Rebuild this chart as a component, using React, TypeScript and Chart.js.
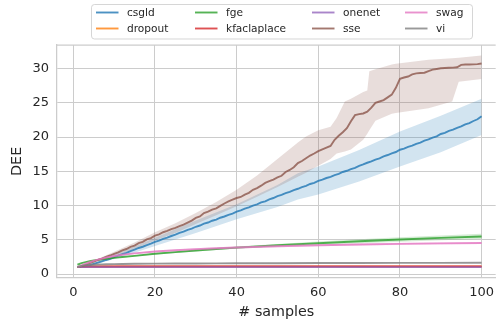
import React, { useEffect, useRef } from "react";
import { Chart, registerables } from "chart.js";

Chart.register(...registerables);

const SAMPLES = Array.from({ length: 100 }, (_, i) => i + 1);

const csgldMean = [
  1.0, 1.02, 1.1, 1.28, 1.48, 1.66, 1.85, 2.05, 2.22, 2.48,
  2.68, 2.9, 3.1, 3.35, 3.55, 3.8, 3.98, 4.22, 4.45, 4.7,
  4.88, 5.12, 5.3, 5.55, 5.75, 6.0, 6.18, 6.45, 6.62, 6.9,
  7.08, 7.35, 7.52, 7.78, 7.95, 8.22, 8.4, 8.65, 8.82, 9.1,
  9.3, 9.55, 9.72, 10.0, 10.18, 10.45, 10.62, 10.9, 11.1, 11.38,
  11.55, 11.8, 12.0, 12.25, 12.45, 12.7, 12.88, 13.15, 13.32, 13.6,
  13.78, 14.02, 14.2, 14.45, 14.62, 14.9, 15.08, 15.32, 15.5, 15.8,
  16.0, 16.25, 16.45, 16.72, 16.9, 17.18, 17.38, 17.62, 17.82, 18.15,
  18.32, 18.58, 18.75, 19.02, 19.2, 19.48, 19.65, 19.92, 20.1, 20.45,
  20.62, 20.9, 21.08, 21.35, 21.55, 21.85, 22.05, 22.35, 22.6, 23.05,
];

const sseMean = [
  1.0, 1.15, 1.35, 1.6, 1.8, 2.05, 2.25, 2.5, 2.7, 2.95,
  3.15, 3.45, 3.65, 3.95, 4.15, 4.5, 4.7, 5.05, 5.25, 5.6,
  5.8, 6.1, 6.3, 6.55, 6.75, 7.0, 7.2, 7.5, 7.8, 8.2,
  8.4, 8.9, 9.1, 9.4, 9.6, 9.95, 10.3, 10.6, 10.85, 11.1,
  11.25, 11.6, 11.85, 12.3, 12.55, 12.9, 13.3, 13.55, 13.8, 14.1,
  14.35, 14.9, 15.2, 15.6, 16.2, 16.5, 16.9, 17.3, 17.6, 17.95,
  18.2, 18.45, 18.7, 19.6, 20.2, 20.7, 21.3, 22.3, 23.2, 23.35,
  23.45, 23.7, 24.3, 25.0, 25.2, 25.4, 25.8, 26.2, 27.2, 28.5,
  28.7, 28.85, 29.15, 29.3, 29.35, 29.4, 29.65, 29.85, 29.95, 30.05,
  30.1, 30.12, 30.15, 30.2, 30.55, 30.6, 30.6, 30.62, 30.65, 30.75,
];

const CSGLD_BAND_X = [1, 5, 10, 15, 20, 30, 40, 50, 55, 60, 70, 80, 90, 100];
const csgldLo = [1.0, 1.35, 2.2, 3.1, 4.1, 6.0, 8.0, 9.8, 10.9, 11.6, 13.5, 15.7, 17.8, 20.3];
const csgldHi = [1.0, 1.6, 2.8, 4.0, 5.3, 7.8, 10.2, 13.0, 14.7, 15.7, 18.1, 20.8, 23.1, 25.6];

const SSE_BAND_X = [1, 5, 10, 15, 20, 25, 30, 35, 40, 45, 50, 55, 57, 60, 63, 64.5, 66.5, 68, 71, 72, 72.5, 74, 78, 79, 87, 92.8, 94.4, 100];
const sseLo = [1.0, 1.65, 2.6, 3.7, 4.9, 6.0, 7.3, 8.6, 9.9, 11.3, 12.7, 14.2, 14.8, 15.8, 16.8, 17.6, 17.9, 18.2, 19.6, 20.5, 21.0, 22.4, 23.4, 23.5, 24.2, 25.2, 28.1, 28.5];
const sseHi = [1.0, 1.95, 3.25, 4.6, 6.1, 7.4, 8.9, 10.5, 12.3, 14.4, 16.8, 19.2, 20.1, 21.0, 21.5, 22.8, 25.2, 25.6, 26.6, 26.8, 29.6, 29.9, 30.6, 30.7, 31.3, 31.5, 31.6, 31.9];

const SMOOTH_X = [1, 2, 3, 4, 5, 6, 7, 8, 10, 12, 15, 20, 25, 30, 35, 40, 50, 60, 70, 80, 90, 100];

const fgeMean = [1.35, 1.58, 1.74, 1.87, 1.98, 2.07, 2.15, 2.22, 2.36, 2.48, 2.65, 2.95, 3.2, 3.43, 3.65, 3.85, 4.2, 4.5, 4.78, 5.04, 5.27, 5.48];
const fgeLo = [1.35, 1.56, 1.71, 1.84, 1.94, 2.03, 2.1, 2.17, 2.3, 2.41, 2.57, 2.85, 3.08, 3.3, 3.5, 3.68, 4.0, 4.27, 4.5, 4.72, 4.92, 5.1];
const fgeHi = [1.35, 1.6, 1.77, 1.9, 2.02, 2.11, 2.2, 2.27, 2.42, 2.55, 2.73, 3.05, 3.32, 3.56, 3.8, 4.02, 4.4, 4.73, 5.06, 5.36, 5.62, 5.88];

const swagMean = [1.0, 1.25, 1.5, 1.72, 1.92, 2.1, 2.25, 2.4, 2.63, 2.82, 3.02, 3.28, 3.48, 3.63, 3.76, 3.87, 4.05, 4.2, 4.31, 4.4, 4.47, 4.53];
const swagLo = [1.0, 1.22, 1.46, 1.68, 1.87, 2.04, 2.19, 2.33, 2.56, 2.74, 2.93, 3.18, 3.37, 3.51, 3.63, 3.74, 3.91, 4.06, 4.16, 4.25, 4.32, 4.37];
const swagHi = [1.0, 1.28, 1.54, 1.76, 1.97, 2.16, 2.31, 2.47, 2.7, 2.9, 3.11, 3.38, 3.59, 3.75, 3.89, 4.0, 4.19, 4.34, 4.46, 4.55, 4.62, 4.69];

const viMean = [1.0, 1.18, 1.27, 1.32, 1.36, 1.39, 1.41, 1.43, 1.45, 1.47, 1.49, 1.51, 1.53, 1.54, 1.55, 1.56, 1.58, 1.6, 1.61, 1.62, 1.63, 1.64];
const viLo = [1.0, 1.15, 1.23, 1.28, 1.32, 1.35, 1.37, 1.39, 1.41, 1.42, 1.44, 1.46, 1.48, 1.49, 1.5, 1.51, 1.53, 1.55, 1.56, 1.57, 1.58, 1.59];
const viHi = [1.0, 1.21, 1.31, 1.36, 1.4, 1.43, 1.45, 1.47, 1.49, 1.52, 1.54, 1.56, 1.58, 1.59, 1.6, 1.61, 1.63, 1.65, 1.66, 1.67, 1.68, 1.69];

const kfacMean = [1.0, 1.05, 1.07, 1.08, 1.09, 1.1, 1.1, 1.1, 1.11, 1.11, 1.11, 1.12, 1.12, 1.12, 1.12, 1.12, 1.12, 1.12, 1.12, 1.12, 1.12, 1.12];
const kfacLo = [1.0, 0.95, 0.93, 0.92, 0.92, 0.92, 0.91, 0.91, 0.91, 0.91, 0.9, 0.9, 0.9, 0.9, 0.9, 0.9, 0.9, 0.9, 0.9, 0.9, 0.9, 0.9];
const kfacHi = [1.0, 1.15, 1.2, 1.23, 1.25, 1.26, 1.27, 1.28, 1.29, 1.3, 1.3, 1.31, 1.31, 1.31, 1.32, 1.32, 1.32, 1.32, 1.32, 1.32, 1.32, 1.32];

const dropoutMean = [1.0, 1.03, 1.04, 1.05, 1.05, 1.06, 1.06, 1.06, 1.07, 1.07, 1.07, 1.07, 1.08, 1.08, 1.08, 1.08, 1.08, 1.08, 1.08, 1.08, 1.08, 1.08];
const onenetMean = [1.0, 1.0, 1.0, 1.0, 1.0, 1.0, 1.0, 1.0, 1.0, 1.0, 1.0, 1.0, 1.0, 1.0, 1.0, 1.0, 1.0, 1.0, 1.0, 1.0, 1.0, 1.0];

const X_TICKS = [0, 20, 40, 60, 80, 100];
const Y_TICKS = [0, 5, 10, 15, 20, 25, 30];

const LEGEND_LABELS = ["csgld", "dropout", "fge", "kfaclaplace", "onenet", "sse", "swag", "vi"];

const COLORS: Record<string, [number, number, number]> = {
  csgld: [31, 119, 180],
  dropout: [255, 127, 14],
  fge: [44, 160, 44],
  kfaclaplace: [214, 39, 40],
  onenet: [148, 103, 189],
  sse: [140, 86, 75],
  swag: [227, 119, 194],
  vi: [127, 127, 127],
};

const rgba = (c: [number, number, number], a: number) => `rgba(${c[0]},${c[1]},${c[2]},${a})`;
const pts = (xs: number[], ys: number[]) => xs.map((x, i) => ({ x, y: ys[i] }));

const FONT = "'DejaVu Sans', sans-serif";
const TEXT = "#262626";
const GRID = "#cccccc";

const legendPlugin = {
  id: "customLegend",
  afterDraw(chart: any) {
    const ctx = chart.ctx;
    ctx.save();
    const bx = 91.5, by = 4.5, bw = 381, bh = 34.5, r = 3;
    ctx.beginPath();
    ctx.moveTo(bx + r, by);
    ctx.lineTo(bx + bw - r, by);
    ctx.arcTo(bx + bw, by, bx + bw, by + r, r);
    ctx.lineTo(bx + bw, by + bh - r);
    ctx.arcTo(bx + bw, by + bh, bx + bw - r, by + bh, r);
    ctx.lineTo(bx + r, by + bh);
    ctx.arcTo(bx, by + bh, bx, by + bh - r, r);
    ctx.lineTo(bx, by + r);
    ctx.arcTo(bx, by, bx + r, by, r);
    ctx.closePath();
    ctx.fillStyle = "rgba(255,255,255,0.8)";
    ctx.fill();
    ctx.strokeStyle = "rgba(204,204,204,0.8)";
    ctx.lineWidth = 1;
    ctx.stroke();
    const colX = [96, 195, 312, 405];
    const rowY = [12.5, 28.5];
    ctx.font = `10.6px ${FONT}`;
    ctx.textBaseline = "middle";
    ctx.textAlign = "left";
    LEGEND_LABELS.forEach((lab, i) => {
      const x = colX[Math.floor(i / 2)];
      const y = rowY[i % 2];
      ctx.beginPath();
      ctx.moveTo(x, y);
      ctx.lineTo(x + 22.5, y);
      ctx.strokeStyle = rgba(COLORS[lab], 0.8);
      ctx.lineWidth = 1.9;
      ctx.stroke();
      ctx.fillStyle = TEXT;
      ctx.fillText(lab, x + 31, y + 0.5);
    });
    ctx.restore();
  },
};

const framePlugin = {
  id: "frameTop",
  beforeDatasetsDraw(chart: any) {
    const { ctx, chartArea } = chart;
    ctx.save();
    ctx.strokeStyle = GRID;
    ctx.lineWidth = 1.25;
    ctx.beginPath();
    ctx.moveTo(chartArea.left, chartArea.top);
    ctx.lineTo(chartArea.right, chartArea.top);
    ctx.stroke();
    ctx.restore();
  },
};

export default function App() {
  const ref = useRef<HTMLCanvasElement>(null);
  useEffect(() => {
    document.body.style.margin = "0";
    document.body.style.overflow = "hidden";
    const series: { name: string; xs: number[]; mean: number[]; bx?: number[]; lo?: number[]; hi?: number[] }[] = [
      { name: "csgld", xs: SAMPLES, mean: csgldMean, bx: CSGLD_BAND_X, lo: csgldLo, hi: csgldHi },
      { name: "dropout", xs: SMOOTH_X, mean: dropoutMean },
      { name: "fge", xs: SMOOTH_X, mean: fgeMean, bx: SMOOTH_X, lo: fgeLo, hi: fgeHi },
      { name: "kfaclaplace", xs: SMOOTH_X, mean: kfacMean, bx: SMOOTH_X, lo: kfacLo, hi: kfacHi },
      { name: "onenet", xs: SMOOTH_X, mean: onenetMean },
      { name: "sse", xs: SAMPLES, mean: sseMean, bx: SSE_BAND_X, lo: sseLo, hi: sseHi },
      { name: "swag", xs: SMOOTH_X, mean: swagMean, bx: SMOOTH_X, lo: swagLo, hi: swagHi },
      { name: "vi", xs: SMOOTH_X, mean: viMean, bx: SMOOTH_X, lo: viLo, hi: viHi },
    ];
    const datasets: any[] = [];
    series.forEach((s) => {
      const c = COLORS[s.name];
      if (s.bx && s.lo && s.hi) {
        datasets.push({
          label: "_" + s.name + "_lo",
          data: pts(s.bx, s.lo),
          borderWidth: 0,
          borderColor: "rgba(0,0,0,0)",
          pointRadius: 0,
          fill: false,
          tension: 0,
        });
        datasets.push({
          label: "_" + s.name + "_hi",
          data: pts(s.bx, s.hi),
          borderWidth: 0,
          borderColor: "rgba(0,0,0,0)",
          backgroundColor: rgba(c, 0.2),
          pointRadius: 0,
          fill: "-1",
          tension: 0,
        });
      }
      datasets.push({
        label: s.name,
        data: pts(s.xs, s.mean),
        borderColor: rgba(c, 0.8),
        borderWidth: 1.9,
        pointRadius: 0,
        fill: false,
        tension: 0,
      });
    });
    const n = datasets.length;
    datasets.forEach((d, i) => (d.order = n - i));

    const chart = new Chart(ref.current!, {
      type: "line",
      data: { datasets },
      plugins: [framePlugin, legendPlugin],
      options: {
        animation: false,
        responsive: false,
        maintainAspectRatio: false,
        layout: { padding: { top: 45, left: 0, right: 0, bottom: 0 } },
        plugins: { legend: { display: false }, tooltip: { enabled: false } },
        scales: {
          x: {
            type: "linear",
            min: -4,
            max: 103.45,
            afterFit: (s: any) => {
              s.height = 44.3;
            },
            afterBuildTicks: (s: any) => {
              s.ticks = X_TICKS.map((v) => ({ value: v }));
            },
            grid: { color: GRID, lineWidth: 1, drawTicks: false },
            border: { color: GRID, width: 1.25 },
            ticks: { padding: 7, color: TEXT, font: { family: FONT, size: 13 }, maxRotation: 0 },
            title: {
              display: true,
              text: "# samples",
              color: TEXT,
              font: { family: FONT, size: 14.3 },
              padding: { top: 0, bottom: 1.5 },
            },
          },
          y: {
            type: "linear",
            min: -0.54,
            max: 33.45,
            afterFit: (s: any) => {
              s.width = 57;
            },
            afterBuildTicks: (s: any) => {
              s.ticks = Y_TICKS.map((v) => ({ value: v }));
            },
            grid: { color: GRID, lineWidth: 1, drawTicks: false },
            border: { color: GRID, width: 1.25 },
            ticks: { padding: 8, color: TEXT, font: { family: FONT, size: 13 } },
            title: {
              display: true,
              text: "DEE",
              color: TEXT,
              font: { family: FONT, size: 14.3 },
              padding: { top: 9, bottom: 0 },
            },
          },
        },
      },
    });
    return () => chart.destroy();
  }, []);

  return (
    <div style={{ position: "absolute", left: 0, top: 0, width: 501, height: 322 }}>
      <canvas ref={ref} width={501} height={322} style={{ display: "block", width: 501, height: 322 }} />
    </div>
  );
}
